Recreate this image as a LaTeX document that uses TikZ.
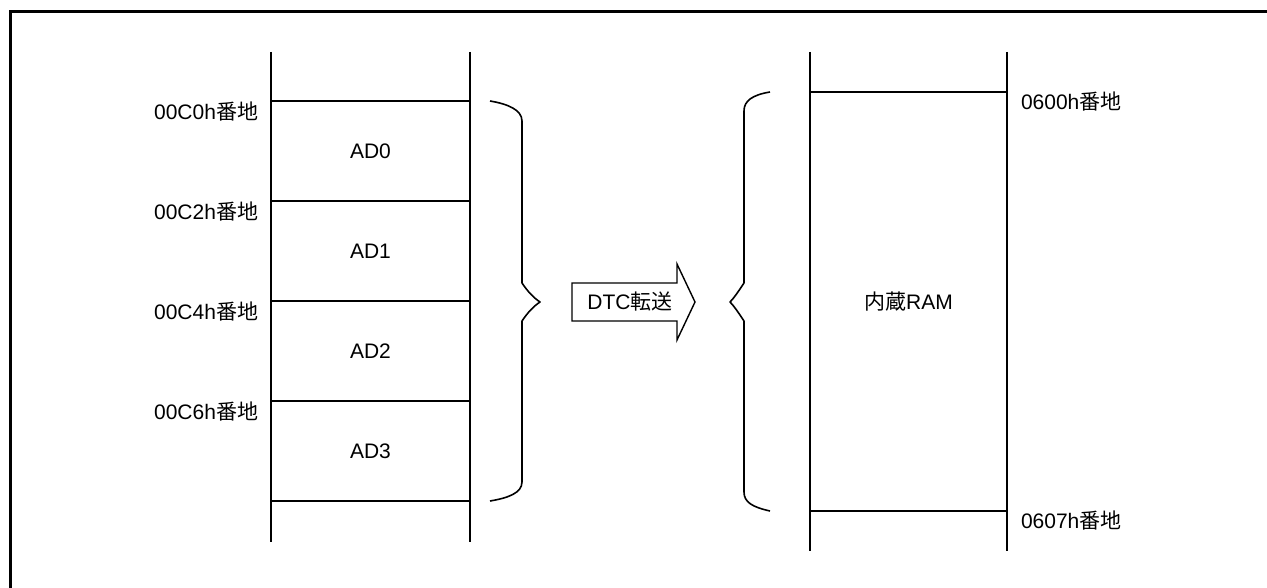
\documentclass[tikz,border=0pt]{standalone}
\usepackage{fontspec}
\setmainfont{Liberation Sans}
\newfontfamily\cjk{Noto Sans CJK JP}
\begin{document}
\begin{tikzpicture}[x=1pt,y=-1pt,
  every node/.style={font=\fontsize{21}{25}\selectfont, inner sep=0pt, outer sep=0pt},
  cell/.style={draw, line width=1.6pt, minimum width=199pt, minimum height=100pt, anchor=north west},
  mem/.style={line width=1.6pt},
  brace/.style={line width=1.6pt, line join=round},
  frame/.style={line width=3pt}
]
\useasboundingbox (0,0) rectangle (1267,588);
% outer frame (open at right and bottom)
\draw[frame] (10,600) -- (10,12) -- (1280,12);

% left memory
\node[cell] (ad0) at (271,101) {AD0};
\node[cell] (ad1) at (271,201) {AD1};
\node[cell] (ad2) at (271,301) {AD2};
\node[cell] (ad3) at (271,401) {AD3};
\coordinate (lt1) at (271,52);
\coordinate (lt2) at (470,52);
\coordinate (lb1) at (271,542);
\coordinate (lb2) at (470,542);
\draw[mem] (lt1) -- (ad0.north west);
\draw[mem] (lt2) -- (ad0.north east);
\draw[mem] (ad3.south west) -- (lb1);
\draw[mem] (ad3.south east) -- (lb2);

\node[anchor=east] (a0) at (258,112) {00C0h{\cjk 番地}};
\node[anchor=east] (a1) at (258,212) {00C2h{\cjk 番地}};
\node[anchor=east] (a2) at (258,312) {00C4h{\cjk 番地}};
\node[anchor=east] (a3) at (258,412) {00C6h{\cjk 番地}};

% left brace
\draw[brace] (490,101) .. controls (508,104) and (522,110) .. (522,121)
  -- (522,283) .. controls (528,292) and (534,298) .. (540,302)
  .. controls (534,306) and (528,312) .. (522,321)
  -- (522,482) .. controls (522,493) and (508,498) .. (490,501);

% transfer arrow
\draw[line width=1.4pt, line join=miter] (572,283) -- (677,283) -- (677,264) -- (695,302)
  -- (677,340) -- (677,321) -- (572,321) -- cycle;
\node (dtc) at (630,302) {DTC{\cjk 転送}};

% right brace
\draw[brace] (770,92) .. controls (752,95) and (744,101) .. (744,111)
  -- (744,283) .. controls (738,292) and (734,298) .. (730,302)
  .. controls (734,306) and (738,312) .. (744,321)
  -- (744,492) .. controls (744,502) and (752,507) .. (770,511);

% right memory
\node[draw, line width=1.6pt, minimum width=197pt, minimum height=419pt, anchor=north west] (ram) at (810,92) {{\cjk 内蔵}RAM};
\coordinate (rt1) at (810,52);
\coordinate (rt2) at (1007,52);
\coordinate (rb1) at (810,551);
\coordinate (rb2) at (1007,551);
\draw[mem] (rt1) -- (ram.north west);
\draw[mem] (rt2) -- (ram.north east);
\draw[mem] (ram.south west) -- (rb1);
\draw[mem] (ram.south east) -- (rb2);

\node[anchor=west] (r0) at (1021,102) {0600h{\cjk 番地}};
\node[anchor=west] (r1) at (1021,521) {0607h{\cjk 番地}};
\end{tikzpicture}
\end{document}
